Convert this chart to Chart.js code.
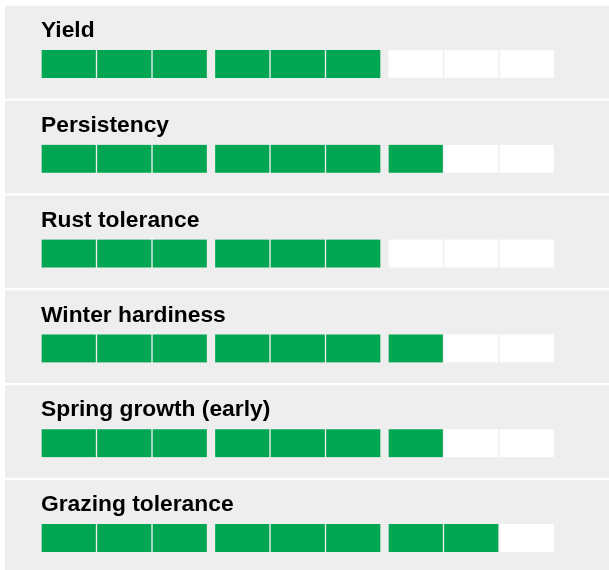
<!DOCTYPE html>
<html>
<head>
<meta charset="utf-8">
<title>Trait ratings</title>
<script src="https://cdn.jsdelivr.net/npm/chart.js@4.4.1/dist/chart.umd.min.js"></script>
<style>
    html, body { margin: 0; padding: 0; background: #ffffff; }
    #rating-chart { display: block; }
</style>
</head>
<body>
<canvas id="rating-chart" width="609" height="570"></canvas>
<script>
// --- 1. data ---
const traits = ["Yield", "Persistency", "Rust tolerance", "Winter hardiness", "Spring growth (early)", "Grazing tolerance"];
const scores = [6, 7, 6, 7, 7, 8];
const maxScore = 9;   // number of boxes per row
const groupSize = 3;  // boxes per group

// --- 2. look ---
const GREEN = "#00a651";
const EMPTY = "#ffffff";
const PANEL = "#eeeeee";
const groupGap = 0.126; // gap between groups, in box units

// one dataset per box, plus a transparent spacer between groups
const datasets = [];
for (let k = 0; k < maxScore; k++) {
    if (k > 0 && k % groupSize === 0) {
        datasets.push({
            label: "gap",
            data: traits.map(() => groupGap),
            backgroundColor: "transparent",
            borderWidth: 0,
            barThickness: 28,
            clip: false
        });
    }
    datasets.push({
        label: "box " + (k + 1),
        data: traits.map(() => 1),
        backgroundColor: scores.map(s => (k < s ? GREEN : EMPTY)),
        borderColor: PANEL,
        borderWidth: { left: 1, right: 1, top: 0, bottom: 0 },
        borderSkipped: false,
        barThickness: 28,
        clip: false
    });
}

const nGroups = Math.ceil(maxScore / groupSize);
const xMax = maxScore + (nGroups - 1) * groupGap;

// grey panel behind every row
const panelPlugin = {
    id: "panels",
    beforeDraw(chart) {
        const { ctx, scales: { y } } = chart;
        ctx.save();
        ctx.fillStyle = PANEL;
        traits.forEach((t, i) => {
            const c = y.getPixelForValue(i);
            ctx.fillRect(5, c - 58, chart.width - 5, 92.5);
        });
        ctx.restore();
    }
};

new Chart(document.getElementById("rating-chart"), {
    type: "bar",
    data: { labels: traits, datasets: datasets },
    options: {
        indexAxis: "y",
        responsive: false,
        animation: false,
        layout: { padding: { left: 41, right: 54.5, top: 64, bottom: 32 } },
        plugins: {
            legend: { display: false },
            tooltip: { enabled: false }
        },
        scales: {
            x: {
                type: "linear",
                stacked: true,
                min: 0,
                max: xMax,
                display: false
            },
            y: {
                type: "category",
                stacked: true,
                offset: false,
                grid: { display: false, drawTicks: false },
                border: { display: false },
                ticks: {
                    mirror: true,
                    padding: 0,
                    labelOffset: -33,
                    color: "#000000",
                    font: { family: "'Liberation Sans', Arial, sans-serif", size: 22.8, weight: "bold" }
                }
            }
        }
    },
    plugins: [panelPlugin]
});
</script>
</body>
</html>
